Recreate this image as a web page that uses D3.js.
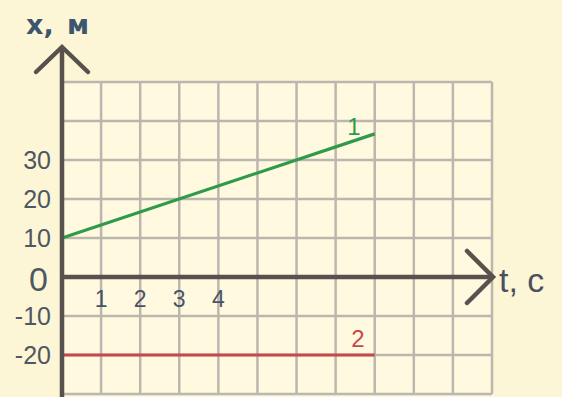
<!DOCTYPE html>
<html><head><meta charset="utf-8">
<script src="https://cdn.jsdelivr.net/npm/d3@7"></script>
<style>
html,body{margin:0;padding:0;background:#fdf6d6;}
svg{display:block;}
</style></head>
<body>
<svg id="chart" width="562" height="397"></svg>
<script>
// Data
const tTicks = [1, 2, 3, 4];
const xTicks = [30, 20, 10, -10, -20];
const tGrid = [0,1,2,3,4,5,6,7,8,9,10,11];
const xGrid = [-30,-20,-10,0,10,20,30,40,50];
const series1T = [0, 8];
const series1X = [10, 36.7];
const series2T = [0, 8];
const series2X = [-20, -20];
const seriesLabels = ["1", "2"];
const xAxisLabel = "t, c";
const yAxisLabel = "x, м";

const svg = d3.select("#chart");
const W = 562, H = 397;
const x = d3.scaleLinear().domain([0, 11]).range([62, 492]);
const y = d3.scaleLinear().domain([-30, 50]).range([394, 82]);

// background
svg.append("rect").attr("width", W).attr("height", H).attr("fill", "#fdf6d6");
svg.append("rect").attr("x", x(0)).attr("y", y(50)).attr("width", x(11)-x(0)).attr("height", y(-30)-y(50)).attr("fill", "#fffadf");

const gridColor = "#bdb6ae";
// grid
svg.append("g").selectAll("line").data(tGrid).join("line")
  .attr("x1", d => x(d)).attr("x2", d => x(d))
  .attr("y1", y(50)).attr("y2", y(-30))
  .attr("stroke", gridColor).attr("stroke-width", 2.5);
svg.append("g").selectAll("line").data(xGrid).join("line")
  .attr("x1", x(0)).attr("x2", x(11))
  .attr("y1", d => y(d)).attr("y2", d => y(d))
  .attr("stroke", gridColor).attr("stroke-width", 2.5);

// series lines
const line = d3.line().x(d => x(d[0])).y(d => y(d[1]));
svg.append("path").datum(series1T.map((t,i)=>[t, series1X[i]]))
  .attr("d", line).attr("fill","none").attr("stroke","#2f9a4c").attr("stroke-width",3.2);
svg.append("path").datum(series2T.map((t,i)=>[t, series2X[i]]))
  .attr("d", line).attr("fill","none").attr("stroke","#c9474b").attr("stroke-width",3.2);

// axes
const axisColor = "#57524d";
svg.append("line").attr("x1", x(0)).attr("x2", x(0)).attr("y1", 48).attr("y2", H)
  .attr("stroke", axisColor).attr("stroke-width", 4.5);
svg.append("line").attr("x1", x(0)).attr("x2", 492).attr("y1", y(0)).attr("y2", y(0))
  .attr("stroke", axisColor).attr("stroke-width", 4.5);
// arrow heads
svg.append("path").attr("d", `M${x(0)-26},${72} L${x(0)},${47} L${x(0)+26},${72}`)
  .attr("fill","none").attr("stroke",axisColor).attr("stroke-width",4.5).attr("stroke-linecap","round").attr("stroke-linejoin","miter");
svg.append("path").attr("d", `M467,${y(0)-26} L493,${y(0)} L467,${y(0)+26}`)
  .attr("fill","none").attr("stroke",axisColor).attr("stroke-width",4.5).attr("stroke-linecap","round").attr("stroke-linejoin","miter");

const font = "Liberation Sans, Arial, sans-serif";
const tickColor = "#4f5762";
// y tick labels
svg.append("g").selectAll("text").data(xTicks).join("text")
  .attr("x", 51).attr("y", d => y(d)).attr("dy", "0.36em")
  .attr("text-anchor","end").attr("font-family",font).attr("font-size",25)
  .attr("fill",tickColor).text(d => d);
svg.append("text").attr("x", 48).attr("y", y(0)+2).attr("dy","0.36em")
  .attr("text-anchor","end").attr("font-family",font).attr("font-size",34)
  .attr("fill",tickColor).text("0");
// t tick labels
svg.append("g").selectAll("text").data(tTicks).join("text")
  .attr("x", d => x(d)).attr("y", 307)
  .attr("text-anchor","middle").attr("font-family",font).attr("font-size",23)
  .attr("fill","#4a5266").text(d => d);

// axis titles
svg.append("text").attr("x", 26).attr("y", 34).attr("font-family","DejaVu Sans, sans-serif")
  .attr("font-size", 27).attr("font-weight","bold").attr("word-spacing", 4)
  .attr("fill","#3d5670").text(yAxisLabel);
svg.append("text").attr("x", 499).attr("y", 292).attr("font-family",font)
  .attr("font-size", 34).attr("fill","#4a5060").text(xAxisLabel);

// series labels
svg.append("text").attr("x", 354).attr("y", 135).attr("text-anchor","middle")
  .attr("font-family",font).attr("font-size",24).attr("fill","#2f9a4c").text(seriesLabels[0]);
svg.append("text").attr("x", 358).attr("y", 347).attr("text-anchor","middle")
  .attr("font-family",font).attr("font-size",24).attr("fill","#c9474b").text(seriesLabels[1]);
</script>
</body></html>
